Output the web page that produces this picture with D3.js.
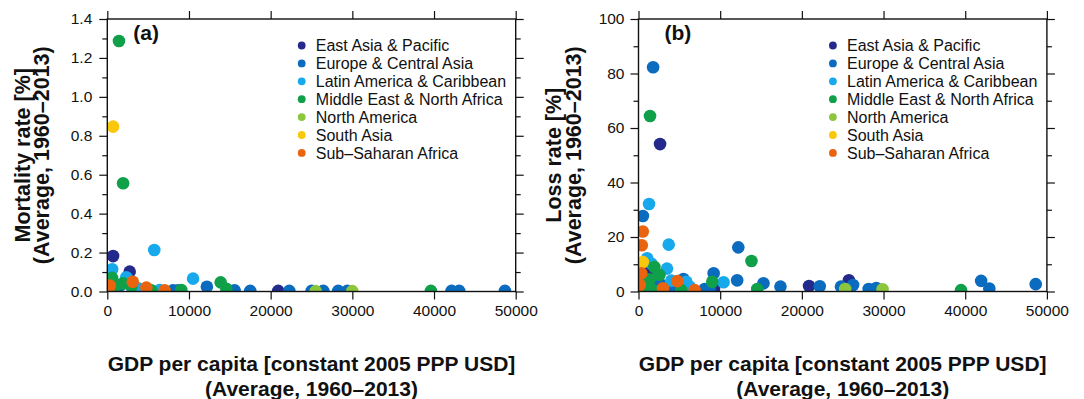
<!DOCTYPE html>
<html>
<head>
<meta charset="utf-8">
<script src="https://cdn.jsdelivr.net/npm/d3@7"></script>
<style>
  body { margin: 0; background: #fff; }
  text { font-family: "Liberation Sans", Arial, Helvetica, sans-serif; fill: #111; }
</style>
</head>
<body>
<div id="chart"></div>
<script>
// regions (legend order = draw order)
const regions = ["East Asia & Pacific", "Europe & Central Asia", "Latin America & Caribbean",
  "Middle East & North Africa", "North America", "South Asia", "Sub\u2013Saharan Africa"]
const regionColors = ["#232a8c", "#0a6bbf", "#17a9ec", "#10a04a", "#8cc63e", "#f9c70c", "#ea6410"]

const gdpTicks = [0, 10000, 20000, 30000, 40000, 50000]
const mortalityTicks = [0, 0.2, 0.4, 0.6, 0.8, 1.0, 1.2, 1.4]
const lossTicks = [0, 20, 40, 60, 80, 100]

// [region index, GDP per capita, value]
const mortalityPoints = [
  [0, 710, 0.182], [0, 2740, 0.102], [0, 20930, 0.003],
  [1, 12190, 0.024], [1, 1560, 0.03], [1, 8040, 0.006], [1, 8650, 0.006], [1, 15590, 0.006],
  [1, 17500, 0.003], [1, 22280, 0.003], [1, 25020, 0.003], [1, 26440, 0.003], [1, 28270, 0.003],
  [1, 29380, 0.003], [1, 42150, 0.003], [1, 43080, 0.003], [1, 48680, 0.003],
  [2, 5750, 0.213], [2, 590, 0.114], [2, 10500, 0.066], [2, 2330, 0.073], [2, 3760, 0.016], [2, 6410, 0.008],
  [3, 1430, 1.287], [3, 1935, 0.556], [3, 590, 0.07], [3, 13880, 0.047], [3, 1920, 0.042], [3, 2940, 0.025],
  [3, 900, 0.02], [3, 5390, 0.006], [3, 9060, 0.008], [3, 14570, 0.014], [3, 39620, 0.003],
  [4, 25510, 0.002], [4, 29990, 0.002],
  [5, 710, 0.847],
  [6, 3120, 0.05], [6, 4780, 0.02], [6, 7030, 0.006], [6, 100, 0.01], [6, 300, 0.03]
]

const lossPoints = [
  [0, 2640, 54.1], [0, 1250, 7.9], [0, 1000, 3.0], [0, 9240, 0.9], [0, 20880, 2.0], [0, 25760, 4.1],
  [1, 1790, 82.3], [1, 540, 27.7], [1, 12220, 16.2], [1, 9200, 6.7], [1, 12080, 4.1], [1, 5500, 4.6],
  [1, 2590, 3.0], [1, 4020, 0.9], [1, 8100, 0.9], [1, 8710, 0.9], [1, 15300, 3.0], [1, 17380, 1.8],
  [1, 22190, 1.9], [1, 24790, 1.8], [1, 26270, 2.4], [1, 28180, 0.9], [1, 29110, 1.3],
  [1, 41950, 3.9], [1, 42950, 1.1], [1, 48630, 2.7],
  [2, 1290, 32.1], [2, 3700, 17.2], [2, 1060, 12.2], [2, 1570, 10.3], [2, 3490, 8.4], [2, 4020, 4.0],
  [2, 5850, 3.6], [2, 6260, 1.8], [2, 10410, 3.4],
  [3, 1410, 64.4], [3, 13830, 11.2], [3, 1950, 9.0], [3, 2570, 6.1], [3, 760, 4.2], [3, 1370, 4.5],
  [3, 9030, 3.6], [3, 14540, 0.9], [3, 5240, 0.5], [3, 950, 1.2], [3, 1780, 0.5], [3, 39490, 0.5],
  [4, 25300, 0.9], [4, 29880, 0.8],
  [5, 530, 10.8],
  [6, 530, 22.0], [6, 400, 17.0], [6, 340, 6.7], [6, 4760, 3.8], [6, 3000, 1.2], [6, 6880, 0.5], [6, 150, 2.4]
]

const width = 1084, height = 399
const plotTop = 19, plotBottom = 291.5, plotW = 408.4
const majorLen = 8, minorLen = 5

const svg = d3.select("#chart").append("svg")
  .attr("width", width)
  .attr("height", height)

const drawPanel = (opts) => {
  let left = opts.left
  let x = d3.scaleLinear().domain([0, 50000]).range([left, left + plotW])
  let y = d3.scaleLinear().domain([0, opts.yMax]).range([plotBottom, plotTop])
  let g = svg.append("g")

  // points, clipped to the frame
  let clipId = "clip-" + opts.name
  svg.append("clipPath").attr("id", clipId)
    .append("rect")
    .attr("x", left).attr("y", plotTop)
    .attr("width", plotW).attr("height", plotBottom - plotTop)

  g.append("g")
    .attr("clip-path", `url(#${clipId})`)
    .selectAll("circle")
    .data(opts.points)
    .enter()
    .append("circle")
    .attr("cx", d => x(d[1]))
    .attr("cy", d => y(d[2]))
    .attr("r", 6.3)
    .attr("fill", d => regionColors[d[0]])

  // axes on all four sides, ticks outward
  let minor = d3.range(opts.yStep / 2, opts.yMax, opts.yStep)
  g.append("g")
    .attr("transform", `translate(0,${plotBottom})`)
    .call(d3.axisBottom(x).tickValues(gdpTicks).tickSize(majorLen).tickPadding(5).tickFormat(d3.format("d")))
  g.append("g")
    .attr("transform", `translate(0,${plotTop})`)
    .call(d3.axisTop(x).tickValues(gdpTicks).tickSize(majorLen).tickFormat(""))
  g.append("g")
    .attr("transform", `translate(${left},0)`)
    .call(d3.axisLeft(y).tickValues(opts.yTicks).tickSize(majorLen).tickPadding(opts.pad).tickFormat(opts.yFormat))
  g.append("g")
    .attr("transform", `translate(${left},0)`)
    .call(d3.axisLeft(y).tickValues(minor).tickSize(minorLen).tickFormat(""))
  g.append("g")
    .attr("transform", `translate(${left + plotW},0)`)
    .call(d3.axisRight(y).tickValues(opts.yTicks).tickSize(majorLen).tickFormat(""))
  g.append("g")
    .attr("transform", `translate(${left + plotW},0)`)
    .call(d3.axisRight(y).tickValues(minor).tickSize(minorLen).tickFormat(""))

  g.selectAll(".domain").remove()
  g.selectAll(".tick line").attr("stroke", "#111").attr("stroke-width", 1.2)
  g.selectAll(".tick text")
    .style("font-family", "'Liberation Sans', Arial, sans-serif")
    .style("font-size", "15.5px")
    .attr("fill", "#111")

  g.append("rect")
    .attr("x", left).attr("y", plotTop)
    .attr("width", plotW).attr("height", plotBottom - plotTop)
    .attr("fill", "none")
    .attr("stroke", "#111")
    .attr("stroke-width", 1.4)

  // panel letter
  g.append("text")
    .attr("x", left + 26)
    .attr("y", 40)
    .style("font-size", "21px")
    .style("font-weight", "bold")
    .text(opts.label)

  // legend
  let legend = g.append("g")
  regions.forEach((r, i) => {
    let ly = 45.5 + i * 17.9
    legend.append("circle")
      .attr("cx", left + 194.4)
      .attr("cy", ly)
      .attr("r", 3.9)
      .attr("fill", regionColors[i])
    legend.append("text")
      .attr("x", left + 208.5)
      .attr("y", ly + 5.6)
      .style("font-size", "16px")
      .text(r)
  })

  // y title
  let yt = g.append("text")
    .attr("transform", `translate(${left - 77.5},${(plotTop + plotBottom) / 2}) rotate(-90)`)
    .attr("text-anchor", "middle")
    .style("font-size", "21.5px")
    .style("font-weight", "bold")
  yt.append("tspan").attr("x", 0).attr("y", 0).text(opts.yTitle)
  yt.append("tspan").attr("x", 0).attr("y", 19.5).text("(Average, 1960\u20132013)")

  // x title
  let xt = g.append("text")
    .attr("text-anchor", "middle")
    .style("font-size", "21px")
    .style("font-weight", "bold")
  xt.append("tspan").attr("x", left + plotW / 2).attr("y", 371).text("GDP per capita [constant 2005 PPP USD]")
  xt.append("tspan").attr("x", left + plotW / 2).attr("y", 395.5).text("(Average, 1960\u20132013)")
}

drawPanel({
  name: "a", left: 107.3, label: "(a)",
  yMax: 1.4, yStep: 0.2, yTicks: mortalityTicks, yFormat: d3.format(".1f"), pad: 7,
  yTitle: "Mortality rate [%]", points: mortalityPoints
})

drawPanel({
  name: "b", left: 638.5, label: "(b)",
  yMax: 100, yStep: 20, yTicks: lossTicks, yFormat: d3.format("d"), pad: 6,
  yTitle: "Loss rate [%]", points: lossPoints
})
</script>
</body>
</html>
